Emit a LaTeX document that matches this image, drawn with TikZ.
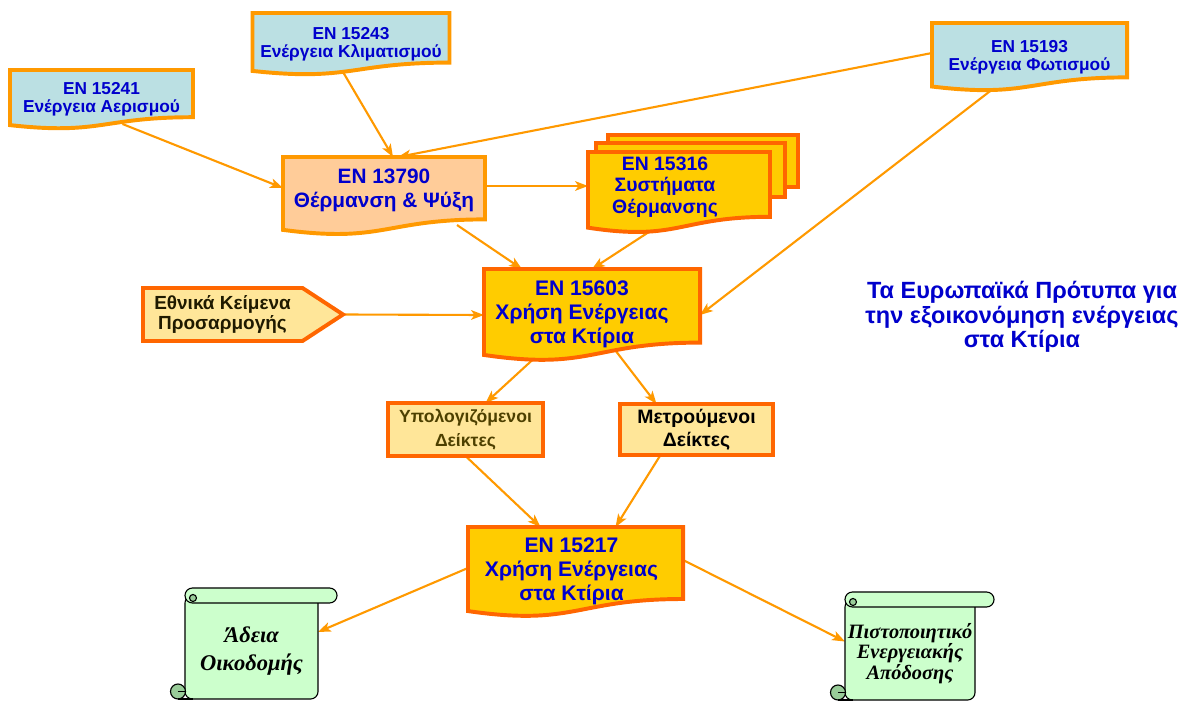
\documentclass[tikz,border=0pt]{standalone}
\usepackage{fontspec}
\setmainfont{Liberation Sans}
\newfontfamily\scrollfont{Liberation Serif}
\usetikzlibrary{arrows.meta,calc}
\definecolor{linkcolor}{HTML}{FF9900}
\definecolor{edgecolor}{HTML}{FF6600}
\definecolor{stdblue}{HTML}{0000CC}
\definecolor{aquafill}{HTML}{BBE0E3}
\definecolor{peachfill}{HTML}{FFCC99}
\definecolor{goldfill}{HTML}{FFCC00}
\definecolor{palefill}{HTML}{FFE699}
\definecolor{scrollfill}{HTML}{CCFFCC}
\definecolor{scrolldark}{HTML}{99CC99}
\definecolor{darktext}{HTML}{1F1A00}
\definecolor{olivetext}{HTML}{4D4000}
\pgfdeclarelayer{edges}
\pgfdeclarelayer{frames}
\pgfsetlayers{edges,frames,main}
\tikzset{
  en box/.style={inner sep=0pt,outer sep=0pt,align=center,text=stdblue},
  en aqua/.style={draw=linkcolor,line width=2.8pt,fill=aquafill},
  en peach/.style={draw=linkcolor,line width=2.8pt,fill=peachfill},
  en gold/.style={draw=edgecolor,line width=2.8pt,fill=goldfill},
  en pale/.style={draw=edgecolor,line width=2.8pt,fill=palefill},
  en scroll/.style={draw=black,line width=.8pt,fill=scrollfill},
  en link/.style={linkcolor,line width=1.5pt,-{Stealth[length=3.2mm,width=2.4mm,inset=.8mm]}},
  small txt/.style={font=\fontsize{12.3}{13}\selectfont\bfseries},
  mid txt/.style={font=\fontsize{14.8}{16.5}\selectfont\bfseries},
  big txt/.style={font=\fontsize{15}{17}\selectfont\bfseries},
  scroll txt/.style={font=\scrollfont\fontsize{#1}{14.5}\selectfont\bfseries\itshape,text=black}
}
% document shape with a wavy bottom, drawn round a node
\newcommand\docframe[2]{%
  \path[#2] (#1.north west) -- (#1.north east)
    -- ($(#1.north east)!.8!(#1.south east)$)
    .. controls ($(#1.north)!.8!(#1.south)$) and ($(#1.north)!1.107!(#1.south)$)
    .. ($(#1.north west)!.934!(#1.south west)$) -- cycle;}
% text block moved left (#1 is twice the move) and up (#2)
\newcommand\offtext[3]{\raisebox{#2}[\height][\depth]{\begin{tabular}{@{}c@{\hspace{#1}}}#3\end{tabular}}}
% rolled paper drawn round a node
\newcommand\scrollframe[1]{%
  \path[en scroll,rounded corners=5.3pt] ([shift={(0,-7.5)}]#1.north west) -- (#1.south west)
    -- (#1.south east) -- ([shift={(0,-7.5)}]#1.north east) -- cycle;
  \path[en scroll,rounded corners=5.3pt] ([shift={(0,-15)}]#1.north west) rectangle ([shift={(19,0)}]#1.north east);
  \path[en scroll,fill=scrolldark] ([shift={(8,-5)}]#1.north west) circle (3.5);
  \path[en scroll,fill=scrolldark] ([shift={(-7,-7.5)}]#1.south west) circle (7.5);
  \draw[line width=.8pt] ([shift={(-7,-7.5)}]#1.south west) -- ([shift={(0,-7.5)}]#1.south west);
  \draw[line width=.8pt] ([shift={(-7,0)}]#1.south west) -- ([shift={(8,0)}]#1.south west);}

\begin{document}
\begin{tikzpicture}[x=0.025cm,y=-0.025cm]
  \useasboundingbox (0,0) rectangle (1186,702);
  % standards
  \node[en box,small txt,minimum width=4.575cm,minimum height=1.475cm] (e15241) at (101.5,99.5) {EN 15241\\Ενέργεια Αερισμού};
  \node[en box,small txt,minimum width=4.925cm,minimum height=1.55cm] (e15243) at (351,44) {EN 15243\\Ενέργεια Κλιματισμού};
  \node[en box,small txt,minimum width=4.875cm,minimum height=1.7cm] (e15193) at (1029.5,57) {EN 15193\\Ενέργεια Φωτισμού};
  \node[en box,mid txt,text depth=11pt,minimum width=5.05cm,minimum height=1.95cm] (e13790) at (384,196) {EN 13790\\Θέρμανση \& Ψύξη};
  \node[en box,font=\fontsize{13.8}{15.6}\selectfont\bfseries,minimum width=4.55cm,minimum height=2.025cm] (e15316) at (679,192.5)
    {\offtext{.7cm}{3.5pt}{EN 15316\\Συστήματα\\Θέρμανσης}};
  \node[en box,big txt,minimum width=5.4cm,minimum height=2.3cm] (e15603) at (592,315)
    {\offtext{.5cm}{0pt}{EN 15603\\Χρήση Ενέργειας\\στα Κτίρια}};
  \node[en box,big txt,minimum width=5.375cm,minimum height=2.25cm] (e15217) at (575.5,572)
    {\offtext{.2cm}{0pt}{EN 15217\\Χρήση Ενέργειας\\στα Κτίρια}};
  % national texts and indicators
  \node[en box,font=\fontsize{13.5}{14}\selectfont\bfseries,text=darktext,minimum width=3.975cm,minimum height=1.325cm] (ethnika) at (222.5,314.5) {Εθνικά Κείμενα\\Προσαρμογής};
  \coordinate (ethnika tip) at ([shift={(41,0)}]ethnika.east);
  \node[en box,font=\fontsize{12.5}{17}\selectfont\bfseries,text=olivetext,minimum width=3.875cm,minimum height=1.325cm] (ypol) at (465.5,429.5) {Υπολογιζόμενοι\\Δείκτες};
  \node[en box,font=\fontsize{13.8}{16.5}\selectfont\bfseries,text=black,minimum width=3.825cm,minimum height=1.275cm] (metr) at (696.5,429.5) {Μετρούμενοι\\Δείκτες};
  % outcomes
  \node[en box,scroll txt=16,font=\scrollfont\fontsize{16}{20}\selectfont\bfseries\itshape,minimum width=3.325cm,minimum height=2.4cm] (adeia) at (251.5,651) {Άδεια\\Οικοδομής};
  \node[en box,scroll txt=14.5,minimum width=3.25cm,minimum height=2.325cm] (pist) at (910,653.5) {Πιστοποιητικό\\Ενεργειακής\\Απόδοσης};
  \node[en box,font=\fontsize{16.7}{17.4}\selectfont\bfseries] (title) at (1022,317) {Τα Ευρωπαϊκά Πρότυπα για\\την εξοικονόμηση ενέργειας\\στα Κτίρια};

  \begin{pgfonlayer}{frames}
    \docframe{e15241}{en aqua}
    \docframe{e15243}{en aqua}
    \docframe{e15193}{en aqua}
    \docframe{e13790}{en peach}
    \path[en gold] ([shift={(20,-17)}]e15316.north west) rectangle ([shift={(28,35)}]e15316.north east);
    \path[en gold] ([shift={(8,-9)}]e15316.north west) rectangle ([shift={(15,45)}]e15316.north east);
    \docframe{e15316}{en gold}
    \docframe{e15603}{en gold}
    \docframe{e15217}{en gold}
    \path[en pale] (ethnika.north west) -- ([shift={(80,0)}]ethnika.north) -- (ethnika tip)
      -- ([shift={(80,0)}]ethnika.south) -- (ethnika.south west) -- cycle;
    \path[en pale] (ypol.north west) rectangle (ypol.south east);
    \path[en pale] (metr.north west) rectangle (metr.south east);
    \scrollframe{adeia}
    \scrollframe{pist}
  \end{pgfonlayer}

  \begin{pgfonlayer}{edges}
    \draw[en link] ([shift={(21,-5)}]e15241.south) -- ([shift={(0,-8)}]e13790.west);
    \draw[en link] ([shift={(-8,-3)}]e15243.south) -- ([shift={(9,0)}]e13790.north);
    \draw[en link] ([shift={(0,-4)}]e15193.west) -- ([shift={(14,0)}]e13790.north);
    \draw[en link] ([shift={(0,-10)}]e13790.east) -- ([shift={(0,-6.5)}]e15316.west);
    \draw[en link] ([shift={(73,-10)}]e13790.south) -- ([shift={(-70,0)}]e15603.north);
    \draw[en link] ([shift={(-24,-5)}]e15316.south) -- (e15603.north);
    \draw[en link] ([shift={(-31.5,-6)}]e15193.south) -- (e15603.east);
    \draw[en link] (ethnika tip) -- (e15603.west);
    \draw[en link] ([shift={(-52,-8)}]e15603.south) -- ([shift={(20,0)}]ypol.north);
    \draw[en link] ([shift={(20,-15)}]e15603.south) -- ([shift={(-40,0)}]metr.north);
    \draw[en link] (ypol.south) -- ([shift={(-35,0)}]e15217.north);
    \draw[en link] ([shift={(-36,0)}]metr.south) -- ([shift={(40,0)}]e15217.north);
    \draw[en link] ([shift={(0,-4)}]e15217.west) -- ([shift={(0,-19)}]adeia.east);
    \draw[en link] ([shift={(0,-12)}]e15217.east) -- ([shift={(0,-12)}]pist.west);
  \end{pgfonlayer}
\end{tikzpicture}
\end{document}
